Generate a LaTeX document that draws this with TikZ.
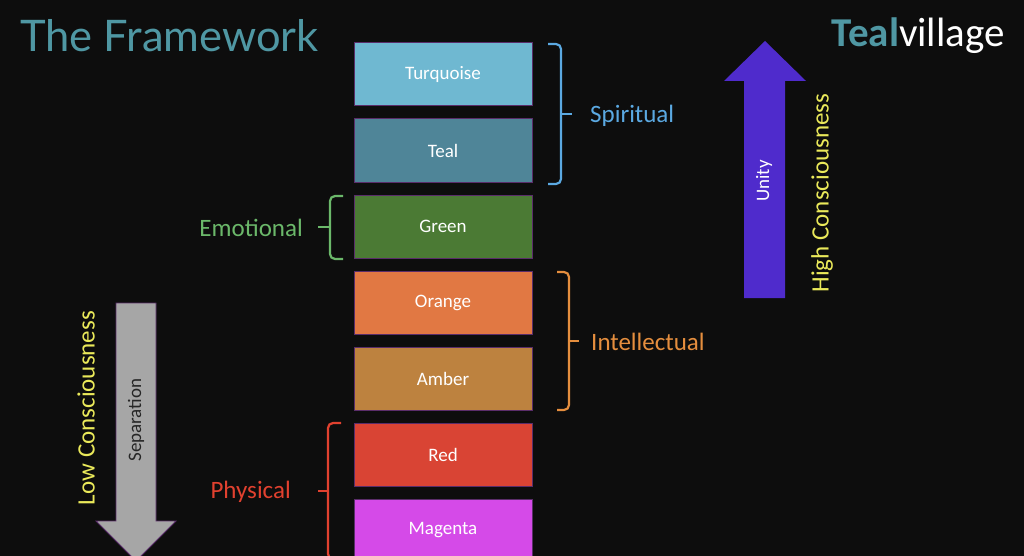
\documentclass[tikz,border=0pt]{standalone}
\usepackage{fontspec}
\setmainfont{Carlito}
\newfontfamily\titlefont{Lato}

\definecolor{bg}{HTML}{0D0D0D}
\definecolor{boxedge}{HTML}{5A2D6A}
\definecolor{turq}{HTML}{6FB8D1}
\definecolor{tealc}{HTML}{4F8598}
\definecolor{greenc}{HTML}{4B7A34}
\definecolor{orangec}{HTML}{E17843}
\definecolor{amberc}{HTML}{BD823F}
\definecolor{redc}{HTML}{D94434}
\definecolor{magentac}{HTML}{D54AE8}
\definecolor{spiritc}{HTML}{5BA9E2}
\definecolor{emoc}{HTML}{6BB86A}
\definecolor{intelc}{HTML}{E58E3E}
\definecolor{physc}{HTML}{E1412F}
\definecolor{yellowc}{HTML}{EAE95A}
\definecolor{unityc}{HTML}{4F2BCC}
\definecolor{sepc}{HTML}{A6A6A6}
\definecolor{titlec}{HTML}{4F97A3}

\tikzset{
  level/.style={draw=boxedge, line width=1pt, minimum width=178pt, minimum height=63pt,
    inner sep=0pt, text=white, font=\fontsize{19}{20}\selectfont},
  group/.style={inner sep=0pt, font=\fontsize{25}{28}\selectfont},
  bracket/.style={line width=2.2pt, rounded corners=5pt},
}

\begin{document}
\begin{tikzpicture}[x=1pt,y=-1pt]
    \useasboundingbox (0,0) rectangle (1024,556);
    \clip (0,0) rectangle (1024,556);
    \fill[bg] (0,0) rectangle (1024,556);
    % titles
    \node[inner sep=0pt, anchor=base west, text=titlec, font=\titlefont\fontsize{43.5}{46}\selectfont] (title) at (20,52) {The Framework};
    \node[inner sep=0pt, anchor=base east, font=\fontsize{41}{44}\selectfont] (logo) at (1005,47) {\textcolor{titlec}{\bfseries Teal}\textcolor{white}{village}};
    % levels
    \node[level, fill=turq]     (turquoise) at (443,74.5)  {Turquoise};
    \node[level, fill=tealc]    (teal)      at (443,150.5) {Teal};
    \node[level, fill=greenc]   (green)     at (443,226.5) {Green};
    \node[level, fill=orangec]  (orange)    at (443,302.5) {Orange};
    \node[level, fill=amberc]   (amber)     at (443,378.5) {Amber};
    \node[level, fill=redc]     (red)       at (443,454.5) {Red};
    \node[level, fill=magentac] (magenta)   at (443,530.5) {Magenta};
    % brackets
    \draw[bracket, spiritc] (548,44) -| (561,114) |- (548,184);
    \draw[bracket, spiritc] (561,114) -- (572,114);
    \node[group, anchor=west, text=spiritc] (spiritual) at (590,116) {Spiritual};
    \draw[bracket, emoc] (343,196) -| (330,227) |- (343,259);
    \draw[bracket, emoc] (330,227) -- (318,227);
    \node[group, anchor=east, text=emoc] (emotional) at (303,228) {Emotional};
    \draw[bracket, intelc] (557,272) -| (569,341) |- (557,410);
    \draw[bracket, intelc] (569,341) -- (579,341);
    \node[group, anchor=west, text=intelc] (intellectual) at (591,342) {Intellectual};
    \draw[bracket, physc] (341,423) -| (328,491) |- (341,559);
    \draw[bracket, physc] (328,491) -- (318,491);
    \node[group, anchor=east, text=physc] (physical) at (291,492) {Physical};
    % arrows
    \draw[boxedge, line width=0.8pt, fill=sepc] (116,303) -- (156,303) -- (156,521) -- (176,521) -- (136,561) -- (96,521) -- (116,521) -- cycle;
    \node[rotate=90, inner sep=0pt, text=black!85, font=\fontsize{19}{20}\selectfont] (separation) at (136,420) {Separation};
    \node[rotate=90, group, text=yellowc] (lowc) at (86,408) {Low Consciousness};
    \fill[unityc] (744,298) -- (785,298) -- (785,81) -- (806,81) -- (765,41) -- (724,81) -- (744,81) -- cycle;
    \node[rotate=90, inner sep=0pt, text=white, font=\fontsize{19}{20}\selectfont] (unity) at (764,181) {Unity};
    \node[rotate=90, group, text=yellowc] (highc) at (822,193) {High Consciousness};
\end{tikzpicture}
\end{document}
